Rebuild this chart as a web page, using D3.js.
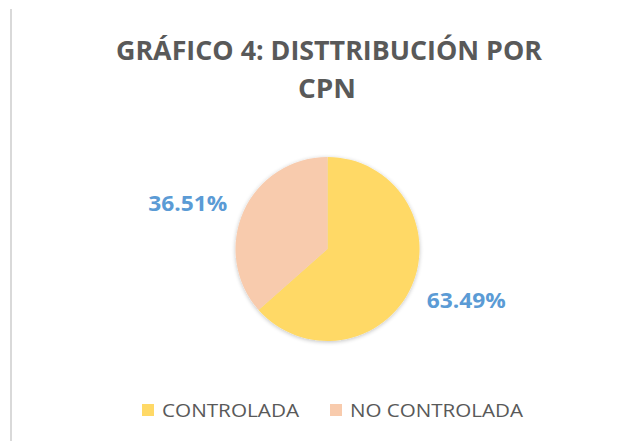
<!DOCTYPE html>
<html><head><meta charset="utf-8">
<script src="https://cdn.jsdelivr.net/npm/d3@7"></script>
<style>html,body{margin:0;padding:0;background:#fff;}svg{display:block;}</style>
</head><body>
<svg id="chart" width="629" height="441"></svg>
<script>
const categories = ["CONTROLADA", "NO CONTROLADA"];
const values = [63.49, 36.51];
const labels = ["63.49%", "36.51%"];
const colors = ["#FFD966", "#F8CBAD"];
const titleLines = ["GRÁFICO 4: DISTTRIBUCIÓN POR", "CPN"];

const svg = d3.select("#chart");
const W = 629, H = 441;

// left border line
svg.append("line").attr("x1", 11).attr("x2", 11).attr("y1", 9).attr("y2", 441)
  .attr("stroke", "#d9d9d9").attr("stroke-width", 2);

// title
const titleFont = "'Open Sans', 'DejaVu Sans', sans-serif";
svg.append("text").attr("x", 329).attr("y", 60).attr("text-anchor", "middle")
  .attr("font-family", titleFont).attr("font-weight", "bold").attr("font-size", 27)
  .attr("fill", "#595959").attr("textLength", 426).attr("lengthAdjust", "spacingAndGlyphs")
  .text(titleLines[0]);
svg.append("text").attr("x", 327).attr("y", 98).attr("text-anchor", "middle")
  .attr("font-family", titleFont).attr("font-weight", "bold").attr("font-size", 27)
  .attr("fill", "#595959").attr("textLength", 58).attr("lengthAdjust", "spacingAndGlyphs")
  .text(titleLines[1]);

// shadow filter
const defs = svg.append("defs");
const f = defs.append("filter").attr("id", "sh").attr("x", "-20%").attr("y", "-20%").attr("width", "140%").attr("height", "140%");
f.append("feGaussianBlur").attr("in", "SourceAlpha").attr("stdDeviation", 2);
f.append("feOffset").attr("dx", 0).attr("dy", 1).attr("result", "b");
f.append("feComponentTransfer").append("feFuncA").attr("type", "linear").attr("slope", 0.25);
const m = f.append("feMerge");
m.append("feMergeNode");
m.append("feMergeNode").attr("in", "SourceGraphic");

const cx = 327.5, cy = 249, R = 92;
const pie = d3.pie().sort(null).value(d => d)(values);
const arc = d3.arc().innerRadius(0).outerRadius(R);
const g = svg.append("g").attr("transform", `translate(${cx},${cy})`);
g.append("g").attr("filter", "url(#sh)").selectAll("path").data(pie).enter().append("path")
  .attr("d", arc).attr("fill", (d, i) => colors[i]);

// data labels
const labelArc = d3.arc().innerRadius(150).outerRadius(150);
const labelAdjust = [[2, -12], [-3, 15]];
g.selectAll("text.lbl").data(pie).enter().append("text").attr("class", "lbl")
  .attr("x", (d, i) => labelArc.centroid(d)[0] + labelAdjust[i][0])
  .attr("y", (d, i) => labelArc.centroid(d)[1] + labelAdjust[i][1])
  .attr("text-anchor", "middle").attr("dominant-baseline", "central")
  .attr("font-family", titleFont).attr("font-weight", "bold").attr("font-size", 22)
  .attr("fill", "#5B9BD5").attr("textLength", 79).attr("lengthAdjust", "spacingAndGlyphs")
  .text((d, i) => labels[i]);

// legend
const legX = [142, 330];
const legW = [137, 173];
const leg = svg.append("g");
categories.forEach((c, i) => {
  leg.append("rect").attr("x", legX[i]).attr("y", 404).attr("width", 12).attr("height", 12).attr("fill", colors[i]);
  leg.append("text").attr("x", legX[i] + 20).attr("y", 417)
    .attr("font-family", titleFont).attr("font-size", 19).attr("fill", "#595959")
    .attr("textLength", legW[i]).attr("lengthAdjust", "spacingAndGlyphs").text(c);
});
</script>
</body></html>
